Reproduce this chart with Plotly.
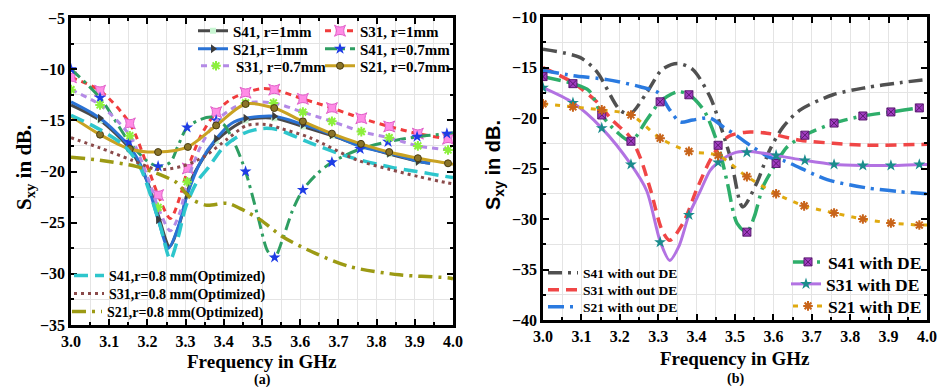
import plotly.graph_objects as go

# ================= Panel (a) data =================
# S41, r=1mm (dark grey line, pale square markers)
a_s41_1_x = [3.0, 3.076, 3.154, 3.2, 3.228, 3.258, 3.285, 3.315, 3.38, 3.457, 3.532, 3.607, 3.683, 3.76, 3.833, 3.908, 3.94]
a_s41_1_y = [-13.5, -15.0, -17.8, -21.0, -24.2, -27.3, -25.0, -20.8, -17.0, -15.0, -14.8, -15.6, -16.5, -17.5, -18.3, -19.0, -19.2]
a_s41_1_mx = [3.076, 3.154, 3.38, 3.457, 3.532, 3.607, 3.683, 3.76, 3.833, 3.908]
a_s41_1_my = [-15.0, -17.8, -17.0, -15.0, -14.8, -15.6, -16.5, -17.5, -18.3, -19.0]

# S31, r=1mm (red dash, pink markers)
a_s31_1_x = [3.0, 3.076, 3.154, 3.2, 3.228, 3.26, 3.285, 3.306, 3.34, 3.38, 3.42, 3.457, 3.5, 3.532, 3.607, 3.683, 3.76, 3.833, 3.908, 3.987, 4.0]
a_s31_1_y = [-10.8, -12.1, -15.3, -19.5, -22.3, -24.6, -22.5, -19.7, -16.5, -14.2, -12.9, -12.3, -11.9, -12.0, -12.9, -13.8, -14.8, -15.6, -16.3, -16.8, -16.8]
a_s31_1_mx = [3.0, 3.076, 3.154, 3.228, 3.306, 3.38, 3.457, 3.532, 3.607, 3.683, 3.76, 3.833, 3.908, 3.987]
a_s31_1_my = [-10.8, -12.1, -15.3, -22.3, -19.7, -14.2, -12.3, -12.0, -12.9, -13.8, -14.8, -15.6, -16.3, -16.8]

# S21, r=1mm (blue solid, dark arrow markers)
a_s21_1_x = [3.0, 3.076, 3.154, 3.19, 3.228, 3.255, 3.28, 3.304, 3.34, 3.38, 3.42, 3.457, 3.532, 3.607, 3.683, 3.76, 3.833, 3.908, 3.94]
a_s21_1_y = [-13.2, -14.8, -17.6, -20.0, -24.7, -27.5, -25.5, -22.3, -19.0, -16.8, -15.3, -14.8, -14.6, -15.4, -16.4, -17.6, -18.2, -19.0, -19.2]
a_s21_1_mx = [3.076, 3.154, 3.228, 3.304, 3.38, 3.457, 3.532, 3.607, 3.683, 3.76, 3.833, 3.908]
a_s21_1_my = [-14.8, -17.6, -24.7, -22.3, -16.8, -14.8, -14.6, -15.4, -16.4, -17.6, -18.2, -19.0]

# S41, r=0.7mm (green dash-dot, blue stars)
a_s41_07_x = [3.0, 3.076, 3.152, 3.2, 3.228, 3.26, 3.28, 3.304, 3.34, 3.37, 3.40, 3.43, 3.457, 3.49, 3.515, 3.533, 3.555, 3.58, 3.607, 3.645, 3.683, 3.757, 3.83, 3.906, 3.984, 4.0]
a_s41_07_y = [-10.0, -12.8, -17.1, -19.0, -19.5, -19.1, -17.5, -15.7, -14.9, -14.7, -15.4, -17.4, -20.0, -24.5, -27.8, -28.4, -26.5, -23.8, -21.8, -20.2, -19.1, -17.8, -17.1, -16.6, -16.3, -16.2]
a_s41_07_mx = [3.0, 3.076, 3.152, 3.228, 3.304, 3.38, 3.457, 3.533, 3.607, 3.683, 3.757, 3.83, 3.906, 3.984]
a_s41_07_my = [-10.0, -12.8, -17.1, -19.5, -15.7, -15.0, -20.0, -28.4, -21.8, -19.1, -17.8, -17.1, -16.6, -16.3]

# S31, r=0.7mm (violet dash, light-green asterisks)
a_s31_07_x = [3.0, 3.076, 3.154, 3.2, 3.228, 3.26, 3.285, 3.304, 3.34, 3.38, 3.42, 3.457, 3.53, 3.607, 3.683, 3.76, 3.833, 3.908, 3.987, 4.0]
a_s31_07_y = [-12.0, -13.5, -16.5, -20.5, -23.5, -25.8, -24.0, -21.0, -17.5, -15.1, -13.9, -13.3, -13.3, -14.2, -15.1, -16.1, -16.7, -17.5, -17.9, -18.0]
a_s31_07_mx = [3.0, 3.076, 3.154, 3.228, 3.304, 3.457, 3.53, 3.607, 3.683, 3.76, 3.833, 3.908, 3.987]
a_s31_07_my = [-12.0, -13.5, -16.5, -23.5, -21.0, -13.3, -13.3, -14.2, -15.1, -16.1, -16.7, -17.5, -17.9]

# S21, r=0.7mm (gold solid, brown circles)
a_s21_07_x = [3.0, 3.076, 3.154, 3.228, 3.306, 3.38, 3.457, 3.532, 3.607, 3.683, 3.759, 3.833, 3.908, 3.987, 4.0]
a_s21_07_y = [-14.6, -16.4, -17.8, -18.1, -17.6, -15.5, -13.4, -13.8, -15.1, -16.3, -17.3, -18.1, -18.7, -19.2, -19.3]
a_s21_07_mx = [3.076, 3.154, 3.228, 3.306, 3.38, 3.457, 3.532, 3.607, 3.683, 3.759, 3.833, 3.908, 3.987]
a_s21_07_my = [-16.4, -17.8, -18.1, -17.6, -15.5, -13.4, -13.8, -15.1, -16.3, -17.3, -18.1, -18.7, -19.2]

# Optimized r=0.8 mm curves
a_s41_08_x = [3.0, 3.076, 3.14, 3.18, 3.21, 3.235, 3.26, 3.28, 3.30, 3.33, 3.36, 3.40, 3.45, 3.5, 3.54, 3.626, 3.73, 3.84, 3.905, 3.984, 4.0]
a_s41_08_y = [-14.5, -15.9, -17.5, -19.5, -22.5, -25.5, -28.6, -26.5, -23.5, -21.0, -19.6, -17.6, -16.3, -15.8, -15.9, -17.2, -18.6, -19.6, -20.0, -20.5, -20.6]

a_s31_08_x = [3.0, 3.076, 3.16, 3.225, 3.29, 3.35, 3.41, 3.46, 3.51, 3.55, 3.626, 3.75, 3.835, 3.91, 3.984, 4.0]
a_s31_08_y = [-16.7, -17.7, -18.9, -19.8, -19.5, -18.5, -16.8, -15.5, -15.4, -15.8, -16.7, -18.9, -19.8, -20.5, -21.1, -21.2]

a_s21_08_x = [3.0, 3.076, 3.17, 3.233, 3.277, 3.30, 3.32, 3.356, 3.408, 3.442, 3.495, 3.555, 3.64, 3.73, 3.86, 3.99, 4.0]
a_s21_08_y = [-18.6, -18.9, -19.5, -20.3, -21.1, -22.1, -22.8, -23.3, -23.1, -23.6, -24.7, -26.4, -28.0, -29.3, -30.1, -30.4, -30.5]

# ================= Panel (b) data =================
b_s41_no_x = [3.0, 3.096, 3.14, 3.2, 3.227, 3.27, 3.31, 3.35, 3.39, 3.435, 3.46, 3.49, 3.52, 3.557, 3.59, 3.625, 3.67, 3.755, 3.84, 3.93, 4.0]
b_s41_no_y = [-13.2, -14.0, -15.4, -19.2, -19.6, -17.5, -15.2, -14.6, -15.2, -17.9, -20.5, -24.2, -28.8, -26.4, -23.2, -20.9, -19.2, -17.7, -17.0, -16.5, -16.2]

b_s31_no_x = [3.0, 3.078, 3.14, 3.18, 3.227, 3.253, 3.28, 3.31, 3.33, 3.365, 3.40, 3.435, 3.47, 3.49, 3.53, 3.583, 3.67, 3.755, 3.84, 4.0]
b_s31_no_y = [-15.0, -16.5, -18.4, -20.2, -21.9, -23.9, -27.1, -31.1, -32.1, -30.4, -27.1, -24.2, -22.2, -21.7, -21.4, -21.5, -22.2, -22.5, -22.7, -22.6]

b_s21_no_x = [3.0, 3.078, 3.167, 3.253, 3.3, 3.33, 3.357, 3.39, 3.435, 3.47, 3.495, 3.547, 3.59, 3.625, 3.74, 3.84, 3.93, 4.0]
b_s21_no_y = [-15.3, -15.8, -16.2, -16.9, -17.5, -19.2, -20.4, -20.2, -20.0, -20.9, -21.5, -22.9, -23.9, -24.2, -26.1, -26.9, -27.3, -27.5]

b_s41_de_x = [3.0, 3.078, 3.12, 3.153, 3.19, 3.229, 3.27, 3.305, 3.35, 3.38, 3.42, 3.456, 3.48, 3.505, 3.531, 3.55, 3.573, 3.607, 3.635, 3.682, 3.758, 3.833, 3.906, 3.98, 4.0]
b_s41_de_y = [-15.9, -16.6, -17.3, -19.7, -21.3, -22.3, -20.2, -18.4, -17.4, -17.7, -19.3, -22.7, -26.4, -30.4, -31.3, -29.8, -26.8, -24.5, -22.9, -21.7, -20.5, -19.8, -19.4, -19.0, -18.9]
b_s41_de_mx = [3.0, 3.078, 3.153, 3.229, 3.305, 3.38, 3.456, 3.531, 3.607, 3.682, 3.758, 3.833, 3.906, 3.98]
b_s41_de_my = [-15.9, -16.6, -19.7, -22.3, -18.4, -17.7, -22.7, -31.3, -24.5, -21.7, -20.5, -19.8, -19.4, -19.0]

b_s31_de_x = [3.0, 3.078, 3.153, 3.229, 3.27, 3.305, 3.33, 3.355, 3.38, 3.41, 3.435, 3.456, 3.495, 3.531, 3.607, 3.682, 3.758, 3.833, 3.906, 3.98, 4.0]
b_s31_de_y = [-17.0, -18.5, -21.0, -24.6, -27.2, -32.2, -34.1, -32.6, -29.6, -27.2, -25.2, -24.4, -23.5, -23.3, -23.7, -24.2, -24.6, -24.7, -24.7, -24.6, -24.6]
b_s31_de_mx = [3.0, 3.078, 3.153, 3.229, 3.305, 3.38, 3.456, 3.531, 3.607, 3.682, 3.758, 3.833, 3.906, 3.98]
b_s31_de_my = [-17.0, -18.5, -21.0, -24.6, -32.3, -29.6, -24.4, -23.4, -23.7, -24.2, -24.6, -24.7, -24.7, -24.6]

b_s21_de_x = [3.0, 3.078, 3.153, 3.229, 3.305, 3.38, 3.456, 3.531, 3.607, 3.68, 3.758, 3.833, 3.906, 3.98, 4.0]
b_s21_de_y = [-18.6, -18.9, -19.2, -19.7, -22.0, -23.3, -23.7, -25.8, -27.5, -28.7, -29.4, -30.0, -30.4, -30.6, -30.6]
b_s21_de_mx = [3.0, 3.078, 3.153, 3.229, 3.305, 3.38, 3.456, 3.531, 3.607, 3.68, 3.758, 3.833, 3.906, 3.98]
b_s21_de_my = [-18.6, -18.9, -19.2, -19.7, -22.0, -23.3, -23.7, -25.8, -27.5, -28.7, -29.4, -30.0, -30.4, -30.6]

x_tick_vals = [3.0, 3.1, 3.2, 3.3, 3.4, 3.5, 3.6, 3.7, 3.8, 3.9, 4.0]
x_tick_text = ["3.0", "3.1", "3.2", "3.3", "3.4", "3.5", "3.6", "3.7", "3.8", "3.9", "4.0"]

SERIF = "Liberation Serif"
SANS = "Liberation Sans"
W, H = 938, 387


def px_x(p):
    return p / W


def px_y(p):
    return 1 - p / H


fig = go.Figure()
legend_layout = {}
leg_count = [0]


def add_series(name, xs, ys, sub, leg_pos, color, dash, width=3,
               mx=None, my=None, msym=None, mcolor=None, msize=8,
               mline=None, mlw=0):
    xa, ya = ("x", "y") if sub == 1 else ("x2", "y2")
    leg_count[0] += 1
    lname = "legend" if leg_count[0] == 1 else "legend%d" % leg_count[0]
    tx, ty, fs = leg_pos
    legend_layout[lname] = dict(x=px_x(tx - 42), y=px_y(ty), xanchor="left", yanchor="middle",
                                bgcolor="rgba(0,0,0,0)", borderwidth=0,
                                font=dict(family=SERIF, size=fs, color="black", weight="bold"))
    fig.add_trace(go.Scatter(
        x=xs, y=ys, mode="lines", xaxis=xa, yaxis=ya, showlegend=False,
        line=dict(color=color, dash=dash, width=width, shape="spline", smoothing=0.8),
        hoverinfo="skip"))
    marker = None
    if mx is not None:
        marker = dict(symbol=msym, color=mcolor, size=msize,
                      line=dict(color=mline or mcolor, width=mlw))
        fig.add_trace(go.Scatter(
            x=mx, y=my, mode="markers", xaxis=xa, yaxis=ya, showlegend=False,
            marker=marker, hoverinfo="skip"))
    fig.add_trace(go.Scatter(
        x=[None], y=[None], xaxis=xa, yaxis=ya, name=name, legend=lname,
        mode="lines+markers" if marker else "lines",
        line=dict(color=color, dash=dash, width=width),
        marker=marker if marker else None))


# ---- Panel (a) ----
add_series("S41, r=1mm", a_s41_1_x, a_s41_1_y, 1, (235, 31, 15), "#4a4a4a", "solid",
           mx=a_s41_1_mx, my=a_s41_1_my, msym="square", mcolor="#c8f5d2", msize=6)
add_series("S31, r=1mm", a_s31_1_x, a_s31_1_y, 1, (362, 31, 15), "#f03c3c", "6px,5px",
           mx=a_s31_1_mx, my=a_s31_1_my, msym="star-square", mcolor="#ff8ce6", msize=10,
           mline="#e060c8", mlw=1)
add_series("S21,r=1mm", a_s21_1_x, a_s21_1_y, 1, (235, 49, 15), "#2a72d4", "solid",
           mx=a_s21_1_mx, my=a_s21_1_my, msym="triangle-right", mcolor="#3c3c3c", msize=8)
add_series("S41, r=0.7mm", a_s41_07_x, a_s41_07_y, 1, (362, 49, 15), "#2e9e62", "12px,5px,3px,5px",
           mx=a_s41_07_mx, my=a_s41_07_my, msym="star", mcolor="#1e3ce6", msize=9)
add_series("S31, r=0.7mm", a_s31_07_x, a_s31_07_y, 1, (238, 66, 15), "#b48ae6", "6px,5px",
           mx=a_s31_07_mx, my=a_s31_07_my, msym="asterisk-open", mcolor="#8cf03c", msize=8,
           mline="#8cf03c", mlw=2)
add_series("S21, r=0.7mm", a_s21_07_x, a_s21_07_y, 1, (362, 66, 15), "#c9a222", "solid",
           mx=a_s21_07_mx, my=a_s21_07_my, msym="circle", mcolor="#8a7428", msize=7,
           mline="#4a3c10", mlw=1)
add_series("S41,r=0.8 mm(Optimized)", a_s41_08_x, a_s41_08_y, 1, (111, 276, 14), "#2ec6cc", "14px,7px", width=3.5)
add_series("S31,r=0.8 mm(Optimized)", a_s31_08_x, a_s31_08_y, 1, (111, 294, 14), "#8a4a4a", "3px,4px", width=3)
add_series("S21,r=0.8 mm(Optimized)", a_s21_08_x, a_s21_08_y, 1, (109, 312, 14), "#9c9a14", "14px,6px,3px,6px", width=3.5)

# ---- Panel (b) ----
add_series("S41 with out DE", b_s41_no_x, b_s41_no_y, 2, (585, 273, 13.5), "#505050", "14px,6px,3px,6px", width=3.5)
add_series("S31 with out DE", b_s31_no_x, b_s31_no_y, 2, (585, 290, 13.5), "#f04646", "11px,7px", width=3.5)
add_series("S21 with out DE", b_s21_no_x, b_s21_no_y, 2, (585, 307, 13.5), "#2a7ae0", "16px,6px,3px,6px", width=3.5)
add_series("S41 with DE", b_s41_de_x, b_s41_de_y, 2, (830, 262, 17.5), "#2eae6a", "18px,6px,3px,6px", width=3.5,
           mx=b_s41_de_mx, my=b_s41_de_my, msym="square-x", mcolor="#a03cc0", msize=8,
           mline="#5a1870", mlw=1)
add_series("S31 with DE", b_s31_de_x, b_s31_de_y, 2, (828, 284, 17.5), "#b272e2", "solid", width=3,
           mx=b_s31_de_mx, my=b_s31_de_my, msym="star", mcolor="#1a8c8c", msize=9)
add_series("S21 with DE", b_s21_de_x, b_s21_de_y, 2, (830, 306, 17.5), "#e0aa10", "5px,7px", width=3,
           mx=b_s21_de_mx, my=b_s21_de_my, msym="asterisk-open", mcolor="#c8641a", msize=8,
           mline="#c8641a", mlw=2)

tickfont = dict(family=SERIF, size=16, color="black", weight="bold")
common_x = dict(range=[3.0, 4.0], tickvals=x_tick_vals, ticktext=x_tick_text,
                showline=True, linewidth=2.5, linecolor="black", mirror="allticks",
                ticks="inside", ticklen=6, tickwidth=2, tickcolor="black",
                showgrid=False, zeroline=False, tickfont=tickfont, automargin=False,
                minor=dict(dtick=0.05, tick0=3.0, ticks="inside", ticklen=3, tickwidth=1.5,
                           tickcolor="black", showgrid=True, gridcolor="#e4e4e4", gridwidth=1))
common_y = dict(dtick=5, showline=True, linewidth=2.5, linecolor="black", mirror="allticks",
                ticks="inside", ticklen=6, tickwidth=2, tickcolor="black",
                showgrid=False, zeroline=False, tickfont=tickfont, automargin=False,
                minor=dict(dtick=2.5, ticks="inside", ticklen=3, tickwidth=1.5,
                           tickcolor="black", showgrid=True, gridcolor="#e4e4e4", gridwidth=1))


def ann(text, x, y, size, family=SERIF, angle=0):
    return dict(text=text, x=px_x(x), y=px_y(y), xref="paper", yref="paper",
                xanchor="center", yanchor="middle", showarrow=False, textangle=angle,
                font=dict(family=family, size=size, color="black"))


fig.update_layout(
    width=W, height=H, margin=dict(l=0, r=0, t=0, b=0, autoexpand=False),
    paper_bgcolor="white", plot_bgcolor="white",
    xaxis=dict(domain=[px_x(71), px_x(453)], anchor="y", **common_x),
    yaxis=dict(domain=[px_y(325), px_y(18)], anchor="x", range=[-35, -5], **common_y),
    xaxis2=dict(domain=[px_x(543), px_x(927)], anchor="y2", **common_x),
    yaxis2=dict(domain=[px_y(320), px_y(17)], anchor="x2", range=[-40, -10], **common_y),
    annotations=[
        ann("<b>Frequency in GHz</b>", 262, 361, 19),
        ann("<b>(a)</b>", 262, 380, 14),
        ann("<b>Frequency in GHz</b>", 735, 358, 19),
        ann("<b>(b)</b>", 735, 379, 14),
        ann("<b>S<sub>xy</sub> in dB.</b>", 25, 168, 21, angle=-90),
        ann("<b>S<sub>xy</sub> in dB.</b>", 494, 165, 20, family=SANS, angle=-90),
    ],
    **legend_layout,
)

fig.write_html("out.html", config={"displayModeBar": False},
               post_script="document.body.style.margin='0px';")
